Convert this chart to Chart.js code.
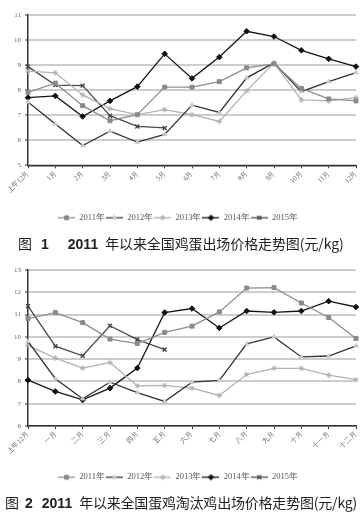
<!DOCTYPE html>
<html>
<head>
<meta charset="utf-8">
<script src="https://cdn.jsdelivr.net/npm/chart.js@4/dist/chart.umd.min.js"></script>
<style>
  html,body{margin:0;padding:0;background:#fff;width:363px;height:525px;overflow:hidden;}
  .wrap{position:absolute;left:0;width:363px;}
  .cap{position:absolute;font-family:"Noto Sans CJK SC","Noto Sans",sans-serif;font-size:14px;color:#1e1e1e;white-space:nowrap;line-height:18px;}
  .cap b{font-family:"Liberation Sans",Arial,sans-serif;font-weight:bold;}
</style>
</head>
<body>
<div class="wrap" style="top:0;height:237px;"><canvas id="c1" width="363" height="237"></canvas></div>
<div class="cap" style="top:234px;left:18px;"><span>图</span><b style="margin-left:9px;">1</b><b style="margin-left:19px;">2011</b><span style="margin-left:7px;letter-spacing:-0.1px;">年以来全国鸡蛋出场价格走势图(元/kg)</span></div>
<div class="wrap" style="top:255px;height:240px;"><canvas id="c2" width="363" height="240"></canvas></div>
<div class="cap" style="top:493px;left:5px;"><span>图</span><b style="margin-left:6px;">2</b><b style="margin-left:9px;">2011</b><span style="margin-left:7px;letter-spacing:-0.2px;">年以来全国蛋鸡淘汰鸡出场价格走势图(元/kg)</span></div>
<script>
// ---- data ----
const months1 = ['上年12月','1月','2月','3月','4月','5月','6月','7月','8月','9月','10月','11月','12月'];
const months2 = ['上年12月','一月','二月','三月','四月','五月','六月','七月','八月','九月','十月','十一月','十二月'];
const yearLabels = ['2011年','2012年','2013年','2014年','2015年'];

const egg2011 = [7.91, 8.28, 7.38, 6.78, 7.02, 8.12, 8.12, 8.34, 8.89, 9.05, 8.07, 7.65, 7.57];
const egg2012 = [7.53, 6.65, 5.79, 6.36, 5.93, 6.23, 7.40, 7.11, 8.49, 9.09, 7.94, 8.34, 8.70];
const egg2013 = [8.76, 8.69, 7.81, 7.26, 7.02, 7.22, 7.02, 6.75, 7.97, 9.09, 7.61, 7.57, 7.70];
const egg2014 = [7.70, 7.77, 6.95, 7.57, 8.14, 9.45, 8.47, 9.32, 10.35, 10.14, 9.59, 9.25, 8.94];
const egg2015 = [8.94, 8.20, 8.18, 6.98, 6.55, 6.49];

const hen2011 = [10.82, 11.09, 10.64, 9.90, 9.70, 10.20, 10.48, 11.12, 12.19, 12.21, 11.52, 10.87, 9.93];
const hen2012 = [9.80, 8.12, 7.22, 7.97, 7.50, 7.10, 7.97, 8.05, 9.69, 10.00, 9.10, 9.14, 9.60];
const hen2013 = [9.62, 9.05, 8.60, 8.85, 7.80, 7.82, 7.70, 7.37, 8.31, 8.59, 8.59, 8.28, 8.08];
const hen2014 = [8.06, 7.55, 7.17, 7.70, 8.60, 11.09, 11.27, 10.40, 11.16, 11.10, 11.16, 11.60, 11.34];
const hen2015 = [11.38, 9.58, 9.15, 10.50, 9.88, 9.43];

const yTicks1 = {min:5, max:11, step:1};
const yTicks2 = {min:6, max:13, step:1};

// ---- styles ----
const styles = [
  {line:'#8e8e8e', ptStyle:'rect',     ptFill:'#8a8a8a', ptBorder:'#8a8a8a', r:2.8, pbw:1},
  {line:'#333333', ptStyle:'triangle', ptFill:'#cfcfcf', ptBorder:'#c4c4c4', r:2.4, pbw:1},
  {line:'#b2b2b2', ptStyle:'star',     ptFill:'#b2b2b2', ptBorder:'#b0b0b0', r:2.8, pbw:1},
  {line:'#151515', ptStyle:'rectRot',  ptFill:'#111111', ptBorder:'#111111', r:2.8, pbw:1},
  {line:'#4a4a4a', ptStyle:'crossRot', ptFill:'#444444', ptBorder:'#444444', r:2.8, pbw:1.4}
];

function legendIcon(s){
  const c = document.createElement('canvas');
  c.width = 17; c.height = 8;
  const ctx = c.getContext('2d');
  ctx.strokeStyle = s.line; ctx.lineWidth = 1.3;
  ctx.beginPath(); ctx.moveTo(0,4); ctx.lineTo(17,4); ctx.stroke();
  ctx.fillStyle = s.ptFill; ctx.strokeStyle = s.ptBorder; ctx.lineWidth = s.pbw;
  Chart.helpers.drawPoint(ctx, {pointStyle:s.ptStyle, radius:s.r, borderWidth:s.pbw, rotation:0}, 8.5, 4);
  return c;
}

function makeDatasets(arrs){
  return arrs.map((d,i)=>({
    label: yearLabels[i],
    data: d,
    borderColor: styles[i].line,
    backgroundColor: styles[i].ptFill,
    borderWidth: 1.3,
    pointStyle: styles[i].ptStyle,
    pointRadius: styles[i].r,
    pointBackgroundColor: styles[i].ptFill,
    pointBorderColor: styles[i].ptBorder,
    pointBorderWidth: styles[i].pbw,
    tension: 0,
    fill: false
  }));
}

function makeChart(id, labels, arrs, yt, xAxisH){
  return new Chart(document.getElementById(id), {
    type:'line',
    data:{labels: labels, datasets: makeDatasets(arrs)},
    options:{
      responsive:false, maintainAspectRatio:false, animation:false,
      layout:{padding:{left:0, right:7, top:yt.padTop, bottom:yt.padBottom}},
      plugins:{
        tooltip:{enabled:false},
        legend:{
          position:'bottom',
          labels:{
            font:{family:'"Liberation Serif","DejaVu Serif",serif', size:8.5},
            color:'#555',
            usePointStyle:true,
            pointStyleWidth:17,
            boxHeight:8,
            padding:1,
            generateLabels:(chart)=>chart.data.datasets.map((ds,i)=>({
              text: ds.label, fillStyle: ds.pointBackgroundColor, strokeStyle: ds.borderColor,
              lineWidth:0, pointStyle: legendIcon(styles[i]), hidden:false, datasetIndex:i, fontColor:'#555'
            }))
          }
        }
      },
      scales:{
        x:{
          offset:false,
          grid:{drawOnChartArea:false, drawTicks:true, tickLength:3, tickColor:'#333', tickWidth:1},
          border:{color:'#333', width:1.5},
          ticks:{font:{family:'"Liberation Serif","DejaVu Serif",serif', size:7}, color:'#666', minRotation:45, maxRotation:45, padding:1, autoSkip:false},
          afterFit:(s)=>{s.height = xAxisH;}
        },
        y:{
          min:yt.min, max:yt.max,
          grid:{color:'#cdcdcd', lineWidth:2, drawTicks:true, tickLength:3, tickColor:'#333', tickWidth:1},
          border:{color:'#333', width:1.5},
          ticks:{stepSize:yt.step, font:{family:'"Liberation Serif","DejaVu Serif",serif', size:7}, color:'#666', padding:4},
          afterFit:(s)=>{s.width = 28;}
        }
      }
    }
  });
}

yTicks1.padTop = 15; yTicks1.padBottom = 5;
yTicks2.padTop = 15; yTicks2.padBottom = 3.5;
makeChart('c1', months1, [egg2011, egg2012, egg2013, egg2014, egg2015], yTicks1, 47.2);
makeChart('c2', months2, [hen2011, hen2012, hen2013, hen2014, hen2015], yTicks2, 46);
</script>
</body>
</html>
